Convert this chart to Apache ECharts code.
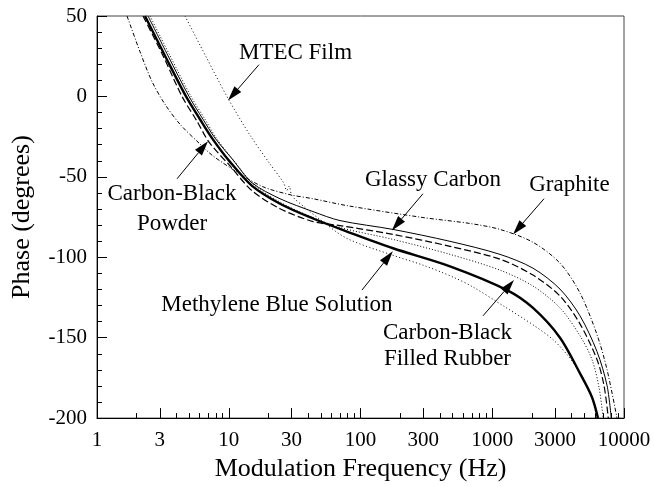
<!DOCTYPE html>
<html>
<head>
<meta charset="utf-8">
<script src="https://cdn.jsdelivr.net/npm/echarts@6/dist/echarts.min.js"></script>
<style>
  html, body { margin: 0; padding: 0; background: #fff; }
  #chart { width: 654px; height: 487px; }
</style>
</head>
<body>
<div id="chart"></div>
<script>
// Phase response vs modulation frequency for six samples (frequency in Hz, phase in degrees)
const graphiteFreq  = [1.69, 2.12, 2.615, 3.282, 4.266, 6.05, 7.595, 12.17, 18.2, 29.17, 43.6, 79, 298, 678, 1145, 2039, 3268, 4634, 6237, 7430, 8850];
const graphitePhase = [50, 27.8, 9.3, -4.9, -17.3, -29.6, -37.0, -48.2, -56.2, -61.1, -63.6, -67.9, -75.3, -79.0, -82.7, -90.7, -103.7, -122.2, -148.1, -169.8, -200];

const glassyFreq  = [2.44, 3.459, 4.993, 6.377, 7.864, 10.77, 15.02, 24.49, 43.6, 69.9, 176.5, 477.9, 1145, 2039, 3268, 4634, 6237, 7430, 8000];
const glassyPhase = [50, 25.3, 0, -14.2, -25.9, -39.5, -53.7, -63.6, -71.6, -77.2, -82.7, -90.1, -98.2, -106.8, -119.8, -136.4, -158.6, -179.6, -200];

const powderFreq  = [2.234, 3.17, 4.418, 5.741, 7.084, 10.22, 15.02, 24.49, 43.6, 69.9, 176.5, 477.9, 1145, 2039, 3268, 4634, 6237, 7047, 7600];
const powderPhase = [50, 25.3, 0, -15.4, -28.4, -43.2, -58.6, -69.8, -77.8, -80.3, -85.8, -93.2, -101.2, -111.1, -124.1, -141.4, -163.6, -179.6, -200];

const rubberFreq  = [2.525, 3.582, 5.17, 6.602, 8.143, 10.96, 15.55, 24.93, 43.6, 69.9, 176.5, 477.9, 1145, 2039, 3268, 4634, 5715, 6460, 6950];
const rubberPhase = [50, 25.3, 0, -14.2, -26.5, -40.1, -54.9, -66.1, -75.3, -81.5, -88.9, -98.2, -108.0, -117.9, -131.5, -148.8, -163.6, -180.9, -200];

const methyleneFreq  = [2.313, 3.282, 4.738, 6.05, 7.463, 10.22, 15.02, 24.49, 43.6, 79, 176.5, 477.9, 1294, 2039, 3268, 4634, 5715, 6350];
const methylenePhase = [50, 25.3, 0, -14.2, -25.9, -40.7, -55.6, -66.7, -75.9, -84.0, -94.4, -105.6, -120.4, -131.5, -150, -172.2, -187.0, -200];

const mtecFreq  = [4.656, 6.72, 9.87, 14.5, 20.56, 26.0, 27.6, 28.8, 30.2, 37.92, 49.27, 79, 176.5, 298.1, 503.6, 714.4, 1250, 2039, 2891, 3693, 4634, 5520, 6237];
const mtecPhase = [50, 24.7, -1.2, -24.1, -42.0, -53.5, -58.5, -55.8, -61.8, -69.1, -76.5, -88.3, -98.8, -104.9, -112.3, -118.5, -130.9, -142.0, -151.2, -160.5, -171.6, -184.0, -200];

// Axis ticks (Hz)
const freqTickLabels = [1, 3, 10, 30, 100, 300, 1000, 3000, 10000];
const freqMinorTicks = [2, 4, 5, 6, 7, 8, 9, 20, 40, 50, 60, 70, 80, 90, 200, 400, 500, 600, 700, 800, 900,
                        2000, 4000, 5000, 6000, 7000, 8000, 9000];
const phaseMin = -200, phaseMax = 50, phaseStep = 50;

const SERIF = 'Liberation Serif';
const lg = Math.log10;
const toPoints = (freq, phase) => freq.map((f, i) => [lg(f), phase[i]]);

function curve(name, freq, phase, width, dash) {
  return {
    name, type: 'line', xAxisIndex: 0, yAxisIndex: 0,
    data: toPoints(freq, phase),
    showSymbol: false, symbol: 'none',
    smooth: 0.3,
    clip: true,
    lineStyle: { color: '#000', width, type: dash }
  };
}

// Callout arrows: [tail f, tail phase, tip f, tip phase]
const arrows = [
  [16.97, 19.75, 9.87, -2.5],
  [4.05, -51.2, 6.96, -27.8],
  [298, -60.5, 173, -83.3],
  [2472, -63.6, 1437, -85.8],
  [102.6, -120.4, 176, -96.3],
  [851, -136.4, 1462, -114.2]
];
// Callout texts, placed by [f, phase] of the text centre
const callouts = [
  { at: [32.1, 27.2], text: 'MTEC Film', lh: 26 },
  { at: [3.71, -69.8], text: 'Carbon-Black\nPowder', lh: 30 },
  { at: [355, -52.2], text: 'Glassy Carbon', lh: 26 },
  { at: [3856, -54.9], text: 'Graphite', lh: 26 },
  { at: [23.2, -129.9], text: 'Methylene Blue Solution', lh: 26 },
  { at: [457, -154.9], text: 'Carbon-Black\nFilled Rubber', lh: 26 }
];

const chart = echarts.init(document.getElementById('chart'), null, { renderer: 'canvas' });

chart.setOption({
  animation: false,
  backgroundColor: '#fff',
  grid: {
    left: 97, right: 30, top: 16, bottom: 66,
    show: true, borderColor: '#444', borderWidth: 1, backgroundColor: 'transparent'
  },
  xAxis: [
    {
      type: 'value', min: 0, max: 4, position: 'bottom',
      name: 'Modulation Frequency (Hz)', nameLocation: 'middle', nameGap: 37,
      nameTextStyle: { fontFamily: SERIF, fontSize: 26, color: '#000' },
      axisLine: { show: true, onZero: false, lineStyle: { color: '#000', width: 1 } },
      axisTick: { show: true, inside: true, length: 10, lineStyle: { color: '#000' },
                  customValues: freqTickLabels.map(lg) },
      axisLabel: { show: true, margin: 12, fontFamily: SERIF, fontSize: 21, color: '#000',
                   customValues: freqTickLabels.map(lg),
                   formatter: v => String(Math.round(Math.pow(10, v))) },
      splitLine: { show: false }
    },
    {
      type: 'value', min: 0, max: 4, position: 'bottom',
      axisLine: { show: false, onZero: false },
      axisTick: { show: true, inside: true, length: 5, lineStyle: { color: '#000' },
                  customValues: freqMinorTicks.map(lg) },
      axisLabel: { show: false },
      splitLine: { show: false }
    }
  ],
  yAxis: {
    type: 'value', min: phaseMin, max: phaseMax, interval: phaseStep,
    name: 'Phase (degrees)', nameLocation: 'middle', nameGap: 62,
    nameTextStyle: { fontFamily: SERIF, fontSize: 26, color: '#000' },
    axisLine: { show: true, onZero: false, lineStyle: { color: '#000', width: 1 } },
    axisTick: { show: true, inside: true, length: 10, lineStyle: { color: '#000' } },
    minorTick: { show: true, splitNumber: 5, length: 5, lineStyle: { color: '#000' } },
    axisLabel: { margin: 10, fontFamily: SERIF, fontSize: 21, color: '#000' },
    splitLine: { show: false }
  },
  series: [
    curve('Graphite', graphiteFreq, graphitePhase, 1, [4, 2, 1, 2]),
    curve('Glassy Carbon', glassyFreq, glassyPhase, 1, 'solid'),
    curve('Carbon-Black Powder', powderFreq, powderPhase, 1.2, [7, 3]),
    curve('Carbon-Black Filled Rubber', rubberFreq, rubberPhase, 1, [1, 2]),
    curve('Methylene Blue Solution', methyleneFreq, methylenePhase, 2.4, 'solid'),
    curve('MTEC Film', mtecFreq, mtecPhase, 1, [1, 2.5]),
    {
      name: 'arrows', type: 'custom', xAxisIndex: 0, yAxisIndex: 0,
      data: arrows.map(a => [lg(a[0]), a[1], lg(a[2]), a[3]]),
      encode: { x: [0, 2], y: [1, 3] },
      silent: true,
      renderItem(params, api) {
        const a = api.coord([api.value(0), api.value(1)]);
        const b = api.coord([api.value(2), api.value(3)]);
        const dx = b[0] - a[0], dy = b[1] - a[1];
        const len = Math.hypot(dx, dy);
        const ux = dx / len, uy = dy / len;
        const headLen = 15, headHalf = 4.5;
        const base = [b[0] - ux * headLen, b[1] - uy * headLen];
        const p1 = [base[0] - uy * headHalf, base[1] + ux * headHalf];
        const p2 = [base[0] + uy * headHalf, base[1] - ux * headHalf];
        return {
          type: 'group',
          children: [
            { type: 'line', shape: { x1: a[0], y1: a[1], x2: base[0], y2: base[1] },
              style: { stroke: '#000', lineWidth: 1 } },
            { type: 'polygon', shape: { points: [b, p1, p2] }, style: { fill: '#000' } }
          ]
        };
      }
    },
    {
      name: 'callouts', type: 'custom', xAxisIndex: 0, yAxisIndex: 0,
      data: callouts.map(c => [lg(c.at[0]), c.at[1]]),
      silent: true,
      renderItem(params, api) {
        const p = api.coord([api.value(0), api.value(1)]);
        const c = callouts[params.dataIndex];
        return {
          type: 'text',
          x: p[0], y: p[1],
          style: {
            text: c.text, fill: '#000',
            font: '23px "' + SERIF + '"',
            lineHeight: c.lh,
            align: 'center', verticalAlign: 'middle'
          }
        };
      }
    }
  ]
});
</script>
</body>
</html>
